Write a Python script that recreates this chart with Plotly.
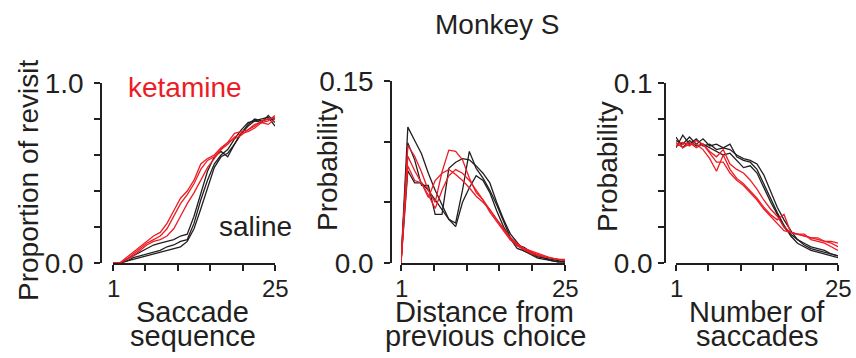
import plotly.graph_objects as go

n = list(range(1, 26))

# Panel 1: proportion of revisit vs saccade sequence
rev_ket = [
    [0, 0, 0.03, 0.06, 0.09, 0.12, 0.15, 0.17, 0.22, 0.29, 0.36, 0.40, 0.46, 0.55, 0.58, 0.60, 0.64, 0.67, 0.72, 0.73, 0.74, 0.77, 0.78, 0.79, 0.82],
    [0, 0, 0.02, 0.05, 0.08, 0.11, 0.13, 0.15, 0.19, 0.26, 0.33, 0.38, 0.44, 0.52, 0.57, 0.59, 0.63, 0.66, 0.70, 0.72, 0.73, 0.75, 0.78, 0.77, 0.80],
    [0, 0, 0.02, 0.04, 0.07, 0.10, 0.12, 0.13, 0.15, 0.19, 0.26, 0.33, 0.39, 0.46, 0.53, 0.58, 0.63, 0.67, 0.69, 0.71, 0.74, 0.76, 0.79, 0.80, 0.81],
]
rev_sal = [
    [0, 0, 0.01, 0.03, 0.04, 0.05, 0.06, 0.07, 0.09, 0.10, 0.12, 0.13, 0.22, 0.35, 0.46, 0.55, 0.60, 0.63, 0.69, 0.74, 0.78, 0.79, 0.80, 0.81, 0.76],
    [0, 0, 0.01, 0.02, 0.03, 0.04, 0.05, 0.06, 0.07, 0.08, 0.09, 0.12, 0.19, 0.30, 0.42, 0.53, 0.59, 0.61, 0.66, 0.72, 0.76, 0.79, 0.78, 0.82, 0.78],
    [0, 0, 0.02, 0.04, 0.06, 0.08, 0.10, 0.11, 0.12, 0.13, 0.15, 0.16, 0.26, 0.39, 0.51, 0.59, 0.62, 0.59, 0.66, 0.72, 0.77, 0.80, 0.79, 0.80, 0.80],
]

# Panel 2: probability vs distance from previous choice
dist_ket = [
    [0, 0.097, 0.088, 0.075, 0.060, 0.050, 0.075, 0.093, 0.092, 0.085, 0.070, 0.058, 0.052, 0.044, 0.036, 0.028, 0.020, 0.014, 0.011, 0.009, 0.007, 0.005, 0.004, 0.003, 0.003],
    [0, 0.088, 0.076, 0.066, 0.054, 0.068, 0.074, 0.077, 0.073, 0.068, 0.062, 0.055, 0.050, 0.044, 0.036, 0.028, 0.021, 0.016, 0.012, 0.010, 0.008, 0.006, 0.004, 0.003, 0.002],
    [0, 0.080, 0.068, 0.066, 0.056, 0.045, 0.060, 0.072, 0.077, 0.074, 0.068, 0.060, 0.052, 0.042, 0.034, 0.026, 0.019, 0.015, 0.011, 0.008, 0.006, 0.005, 0.004, 0.003, 0.002],
]
dist_sal = [
    [0, 0.112, 0.101, 0.090, 0.074, 0.060, 0.048, 0.036, 0.030, 0.050, 0.062, 0.072, 0.068, 0.058, 0.043, 0.030, 0.020, 0.012, 0.010, 0.007, 0.004, 0.003, 0.002, 0.001, 0.001],
    [0, 0.099, 0.085, 0.064, 0.064, 0.040, 0.040, 0.078, 0.083, 0.086, 0.085, 0.080, 0.074, 0.066, 0.050, 0.036, 0.024, 0.017, 0.010, 0.008, 0.005, 0.004, 0.002, 0.001, 0.001],
    [0, 0.076, 0.066, 0.066, 0.060, 0.052, 0.044, 0.036, 0.033, 0.060, 0.092, 0.078, 0.070, 0.060, 0.048, 0.034, 0.021, 0.015, 0.013, 0.009, 0.006, 0.004, 0.003, 0.002, 0.001],
]

# Panel 3: probability vs number of saccades
num_ket = [
    [0.066, 0.067, 0.065, 0.068, 0.066, 0.062, 0.059, 0.063, 0.055, 0.052, 0.050, 0.046, 0.041, 0.035, 0.030, 0.026, 0.020, 0.017, 0.016, 0.015, 0.014, 0.013, 0.012, 0.011, 0.009],
    [0.067, 0.064, 0.066, 0.066, 0.063, 0.058, 0.051, 0.060, 0.052, 0.047, 0.044, 0.040, 0.036, 0.031, 0.027, 0.024, 0.027, 0.017, 0.016, 0.015, 0.014, 0.014, 0.012, 0.012, 0.011],
    [0.065, 0.066, 0.067, 0.064, 0.066, 0.061, 0.056, 0.056, 0.050, 0.046, 0.043, 0.039, 0.035, 0.030, 0.026, 0.022, 0.018, 0.017, 0.016, 0.016, 0.013, 0.012, 0.011, 0.009, 0.007],
]
num_sal = [
    [0.068, 0.066, 0.070, 0.066, 0.069, 0.065, 0.066, 0.064, 0.063, 0.060, 0.058, 0.057, 0.055, 0.049, 0.040, 0.031, 0.024, 0.018, 0.013, 0.010, 0.008, 0.007, 0.006, 0.005, 0.004],
    [0.064, 0.071, 0.066, 0.069, 0.065, 0.066, 0.063, 0.064, 0.066, 0.059, 0.057, 0.056, 0.052, 0.044, 0.036, 0.028, 0.021, 0.015, 0.011, 0.009, 0.007, 0.006, 0.005, 0.004, 0.003],
    [0.070, 0.064, 0.068, 0.065, 0.066, 0.064, 0.062, 0.060, 0.061, 0.057, 0.053, 0.054, 0.050, 0.042, 0.034, 0.027, 0.020, 0.016, 0.013, 0.011, 0.009, 0.008, 0.007, 0.005, 0.004],
]

x_ticks = [1, 5.8, 10.6, 15.4, 20.2, 25]
x_ticklabels = {1: "1", 25: "25"}

RED = "#ed1c24"
BLACK = "#231f20"
FONT = "Liberation Sans, Arial, sans-serif"
W, H = 856, 358

def px(x):
    return x / W

def py(y):
    return (H - y) / H

fig = go.Figure()

panels = [
    (rev_sal, rev_ket, "x", "y"),
    (dist_sal, dist_ket, "x2", "y2"),
    (num_sal, num_ket, "x3", "y3"),
]
for sal, ket, xa, ya in panels:
    for s in sal:
        fig.add_trace(go.Scatter(x=n, y=s, mode="lines", xaxis=xa, yaxis=ya,
                                 line=dict(color=BLACK, width=1.3), showlegend=False, hoverinfo="skip"))
    for s in ket:
        fig.add_trace(go.Scatter(x=n, y=s, mode="lines", xaxis=xa, yaxis=ya,
                                 line=dict(color=RED, width=1.3), showlegend=False, hoverinfo="skip"))

# geometry (pixels): x-axis start/end, y-axis x position, y top, label standoff
geo = [
    (113, 275, 101, 83, [0, 0.2, 0.4, 0.6, 0.8, 1.0], ["0.0", "", "", "", "", "1.0"], [0, 1.0], 5),
    (401, 565, 391, 81, [0, 0.05, 0.10, 0.15], ["0.0", "", "", "0.15"], [0, 0.15], 5),
    (676, 838, 665, 83, [0, 0.02, 0.04, 0.06, 0.08, 0.1], ["0.0", "", "", "", "", "0.1"], [0, 0.1], 0),
]
ybot = 263
common_axis = dict(showline=True, linecolor=BLACK, linewidth=1.5, ticks="outside",
                   ticklen=6, tickwidth=1.5, tickcolor=BLACK, showgrid=False, zeroline=False,
                   fixedrange=True, automargin=False)
layout_axes = {}
for i, (x0, x1, yx, ytop, yt, ytt, yr, so) in enumerate(geo):
    sfx = "" if i == 0 else str(i + 1)
    layout_axes["xaxis" + sfx] = dict(
        domain=[px(x0), px(x1)], range=[1, 25], anchor="y" + sfx,
        tickvals=x_ticks, showticklabels=False, **common_axis)
    layout_axes["yaxis" + sfx] = dict(
        domain=[py(ybot), py(ytop)], range=yr, anchor="free", position=px(yx),
        tickvals=yt, ticktext=ytt, ticklabelstandoff=so,
        tickfont=dict(family=FONT, size=28, color=BLACK), **common_axis)

fig.update_layout(**layout_axes)

ann = []
def add_text(text, x, y, size=28, color=BLACK, angle=0):
    ann.append(dict(text=text, x=px(x), y=py(y), xref="paper", yref="paper",
                    showarrow=False, xanchor="center", yanchor="middle", textangle=angle,
                    font=dict(family=FONT, size=size, color=color)))

# x tick labels placed in data coordinates of each x axis
for xa in ["x", "x2", "x3"]:
    for v, t in x_ticklabels.items():
        ann.append(dict(text=t, x=v, xref=xa, y=py(288), yref="paper", showarrow=False,
                        xanchor="center", yanchor="middle",
                        font=dict(family=FONT, size=24, color=BLACK)))

add_text("Monkey S", 497, 25, size=28)
add_text("ketamine", 185, 87, color=RED)
add_text("saline", 255, 226)
add_text("Proportion of revisit", 28, 181, angle=-90)
add_text("Probability", 327, 166, angle=-90)
add_text("Probability", 607, 167, angle=-90)
add_text("Saccade", 192, 312, size=29)
add_text("sequence", 193, 336, size=29)
add_text("Distance from", 484, 312, size=29)
add_text("previous choice", 486, 336, size=29)
add_text("Number of", 757, 312, size=29)
add_text("saccades", 757, 336, size=29)

fig.update_layout(annotations=ann, width=W, height=H,
                  margin=dict(l=0, r=0, t=0, b=0, pad=0, autoexpand=False),
                  paper_bgcolor="white", plot_bgcolor="white", showlegend=False)

fig.write_html("out.html", config={"displayModeBar": False})
